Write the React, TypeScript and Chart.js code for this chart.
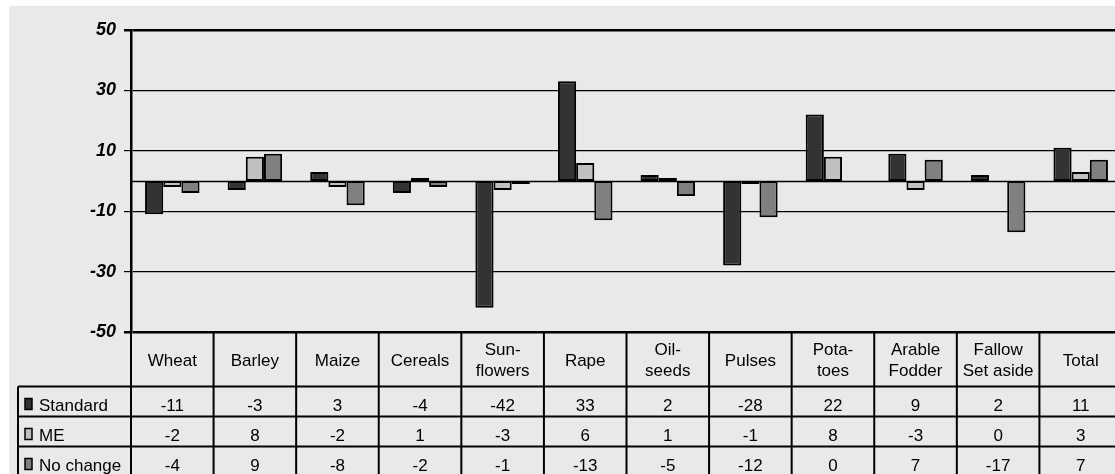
import React, { useEffect, useRef } from "react";
import { Chart, registerables } from "chart.js";

Chart.register(...registerables);

const categories = ["Wheat", "Barley", "Maize", "Cereals", "Sun-\nflowers", "Rape", "Oil-\nseeds", "Pulses", "Pota-\ntoes", "Arable\nFodder", "Fallow\nSet aside", "Total"];
const seriesNames = ["Standard", "ME", "No change"];
const standard = [-11, -3, 3, -4, -42, 33, 2, -28, 22, 9, 2, 11];
const me = [-2, 8, -2, 1, -3, 6, 1, -1, 8, -3, 0, 3];
const noChange = [-4, 9, -8, -2, -1, -13, -5, -12, 0, 7, -17, 7];
const seriesColors = ["#333333", "#c0c0c0", "#808080"];
const yTicks = [-50, -30, -10, 10, 30, 50];

const FONT = "'Liberation Sans', Arial, sans-serif";

const bgPlugin = {
  id: "bg",
  beforeDraw(chart: any) {
    const { ctx, width, height } = chart;
    ctx.save();
    ctx.fillStyle = "#ffffff";
    ctx.fillRect(0, 0, width, height);
    ctx.fillStyle = "#e9e9e9";
    ctx.fillRect(9, 6, width - 9, height - 6);
    ctx.restore();
  },
};

const zeroLinePlugin = {
  id: "zeroLine",
  beforeDatasetsDraw(chart: any) {
    const { ctx, chartArea } = chart;
    const y = Math.round(chart.scales.y.getPixelForValue(0)) + 0.5;
    ctx.save();
    ctx.strokeStyle = "#000";
    ctx.lineWidth = 1.5;
    ctx.beginPath();
    ctx.moveTo(chartArea.left, y);
    ctx.lineTo(chartArea.right, y);
    ctx.stroke();
    ctx.restore();
  },
};

const tablePlugin = {
  id: "dataTable",
  afterDraw(chart: any) {
    const { ctx, chartArea, height } = chart;
    const xs = chart.scales.x;
    const n = categories.length;
    const cw = (chartArea.right - chartArea.left) / n;
    const left = chartArea.left;
    const right = chartArea.right;
    const top = chartArea.bottom;
    const headerBottom = top + 54.5;
    const rowH = 30;
    const legendLeft = 18;
    ctx.save();
    ctx.strokeStyle = "#000";
    ctx.lineWidth = 2;
    ctx.beginPath();
    ctx.moveTo(legendLeft, headerBottom);
    ctx.lineTo(right, headerBottom);
    for (let k = 1; k <= 3; k++) {
      const y = headerBottom + rowH * k;
      ctx.moveTo(legendLeft, y);
      ctx.lineTo(right, y);
    }
    for (let i = 0; i <= n; i++) {
      const x = left + i * cw;
      ctx.moveTo(x, top);
      ctx.lineTo(x, height + 5);
    }
    ctx.moveTo(legendLeft, headerBottom);
    ctx.lineTo(legendLeft, height + 5);
    ctx.stroke();

    ctx.fillStyle = "#000";
    ctx.font = `17px ${FONT}`;
    ctx.textAlign = "center";
    ctx.textBaseline = "alphabetic";
    const hc = (top + headerBottom) / 2;
    categories.forEach((c, i) => {
      const cx = xs.getPixelForValue(i);
      const lines = c.split("\n");
      if (lines.length === 1) {
        ctx.fillText(lines[0], cx, hc + 6.5);
      } else {
        ctx.fillText(lines[0], cx, hc - 4.5);
        ctx.fillText(lines[1], cx, hc + 17);
      }
    });
    const rows = [standard, me, noChange];
    rows.forEach((vals, r) => {
      const rc = headerBottom + rowH * r + rowH / 2;
      ctx.textAlign = "center";
      vals.forEach((v, i) => {
        ctx.fillText(String(v), xs.getPixelForValue(i), rc + 9);
      });
      // legend key
      ctx.fillStyle = seriesColors[r];
      ctx.fillRect(25, rc - 3, 7, 11);
      ctx.lineWidth = 1.5;
      ctx.strokeRect(25, rc - 3, 7, 11);
      ctx.fillStyle = "#000";
      ctx.textAlign = "left";
      ctx.fillText(seriesNames[r], 39, rc + 9);
    });
    ctx.restore();
  },
};

export default function App() {
  const ref = useRef<HTMLCanvasElement>(null);
  useEffect(() => {
    document.body.style.margin = "0";
    const data = [standard, me, noChange];
    const chart = new Chart(ref.current as HTMLCanvasElement, {
      type: "bar",
      data: {
        labels: categories,
        datasets: data.map((d, i) => ({
          label: seriesNames[i],
          data: d,
          backgroundColor: seriesColors[i],
          borderColor: "#000",
          borderWidth: 2,
          borderSkipped: false,
          barPercentage: 1,
          categoryPercentage: 0.66,
        })),
      },
      options: {
        responsive: false,
        animation: false,
        layout: { padding: { top: 30, bottom: 142, left: 0, right: 3 } },
        plugins: { legend: { display: false }, tooltip: { enabled: false } },
        scales: {
          x: { display: false },
          y: {
            min: -50,
            max: 50,
            afterBuildTicks: (s: any) => {
              s.ticks = yTicks.map((v) => ({ value: v }));
            },
            afterFit: (s: any) => {
              s.width = 131;
            },
            ticks: {
              color: "#000",
              padding: 8,
              font: { family: FONT, size: 18, weight: "bold", style: "italic" },
            },
            grid: {
              color: "#000",
              lineWidth: (c: any) => (c.tick && (c.tick.value === 50 || c.tick.value === -50) ? 2.5 : 1.2),
              tickLength: 7,
            },
            border: { color: "#000", width: 2.5 },
          },
        },
      } as any,
      plugins: [bgPlugin, zeroLinePlugin, tablePlugin],
    });
    return () => chart.destroy();
  }, []);
  return (
    <div style={{ position: "fixed", left: 0, top: 0, width: 1115, height: 474, overflow: "hidden", background: "#fff" }}>
      <canvas ref={ref} width={1125} height={474} style={{ display: "block" }} />
    </div>
  );
}
